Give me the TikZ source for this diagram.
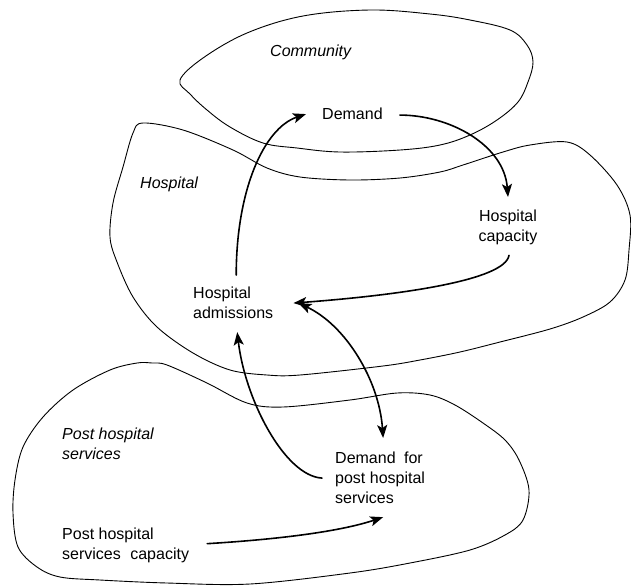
\documentclass[tikz,border=0pt]{standalone}
\usepackage{fontspec}
\setmainfont{Liberation Sans}
\usetikzlibrary{arrows.meta}
\begin{document}
\begin{tikzpicture}[x=1pt,y=-1pt,
  region/.style={draw=black,line width=0.9pt,line join=round},
  lbl/.style={inner sep=0pt,anchor=north west,align=left,font=\fontsize{16}{20}\selectfont},
  zone/.style={lbl,font=\fontsize{16}{20}\selectfont\itshape},
  tip/.style={},
  link/.style={draw=black,line width=1.6pt,line cap=round,
    -{Stealth[length=13pt,width=10pt,inset=3pt]}},
  both/.style={link,{Stealth[length=13pt,width=10pt,inset=3pt]}-{Stealth[length=13pt,width=10pt,inset=3pt]}}]
\useasboundingbox (0,0) rectangle (631,587);

% Community region
\draw[region] plot[smooth cycle,tension=0.6] coordinates {
  (180,80) (203,58) (247,33) (303,16) (370,10) (430,14) (470,20) (510,30)
  (527,45) (533,62) (528,82) (518,102) (497,120) (470,135) (440,145)
  (400,150) (340,152) (297,148) (263,143) (230,127) (207,110) (190,94)};

% Hospital region
\draw[region] plot[smooth cycle,tension=0.55] coordinates {
  (143,123) (183,130) (233,150) (267,168) (300,177) (350,180) (400,178)
  (440,172) (463,165) (503,152) (530,145) (567,142) (590,155) (617,185)
  (630,215) (629,250) (625,280) (610,302) (583,317) (550,329) (500,342)
  (460,352) (420,360) (383,366) (300,375) (267,375) (230,370) (193,353)
  (157,327) (133,297) (117,262) (110,237) (113,203) (123,167) (133,133)};

% Post hospital services region
\draw[region] plot[smooth cycle,tension=0.55] coordinates {
  (137,363) (152,363) (167,365) (207,383) (247,403) (283,407) (350,400)
  (397,393) (430,395) (455,405) (483,423) (505,440) (519,460) (529,490)
  (523,520) (505,535) (470,550) (410,563) (350,573) (250,584) (167,583)
  (100,580) (60,577) (37,567) (18,547) (13,513) (15,480) (23,447) (43,417)
  (73,390) (110,370)};

% Region names
\node[zone] (zcom) at (270,45) {Community};
\node[zone] (zhos) at (140,177) {Hospital};
\node[zone] (zpost) at (62,428) {Post hospital\\services};

% Variables
\node[lbl] (dem) at (322,108) {Demand};
\node[lbl,anchor=north,align=center] (cap) at (508,210) {Hospital\\capacity};
\node[lbl] (adm) at (193,287) {Hospital\\admissions};
\node[lbl] (dfp) at (335,452) {Demand\hspace{4pt} for\\post hospital\\services};
\node[lbl] (pcap) at (62,528) {Post hospital\\services\hspace{5pt} capacity};

% Causal links
\draw[link] ([xshift=3pt,yshift=12pt]adm.north)
  .. controls +(0,-85) and +(-42,14) .. ([xshift=-16pt]dem.west);
\draw[link] ([xshift=17pt,yshift=-1pt]dem.east)
  .. controls +(50,0) and +(-4,-52) .. ([yshift=13pt]cap.north);
\draw[link] ([xshift=1pt,yshift=-10pt]cap.south)
  .. controls +(-4,25) and +(107,-8) .. ([xshift=20pt]adm.east);
\draw[both] ([xshift=25pt]adm.east)
  .. controls +(47,22) and +(-4,-58) .. ([xshift=3pt,yshift=14pt]dfp.north);
\draw[link] ([xshift=-13pt]dfp.west)
  .. controls +(-37,-2) and +(8,68) .. ([xshift=4pt,yshift=-13pt]adm.south);
\draw[link] ([xshift=18pt,yshift=2pt]pcap.east)
  .. controls +(82,-5) and +(-39,13) .. ([xshift=3pt,yshift=-13pt]dfp.south);
\end{tikzpicture}
\end{document}
